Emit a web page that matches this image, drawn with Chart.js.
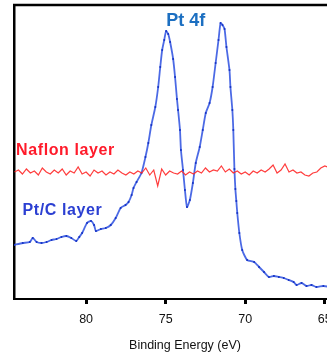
<!DOCTYPE html>
<html lang="en">
<head>
  <meta charset="UTF-8">
  <title>Pt 4f XPS</title>
  <script src="https://cdn.jsdelivr.net/npm/chart.js@4.4.0/dist/chart.umd.min.js"></script>
  <style>
    html, body { margin: 0; padding: 0; background: #fff; overflow: hidden; }
    #xps { display: block; }
  </style>
</head>
<body>
  <canvas id="xps" width="360" height="358"></canvas>

  <script>
    // Pt/C layer (blue) - binding energy (eV) and intensity (a.u.)
    const ptcEnergy = [84.53, 83.98, 83.54, 83.35, 83.11, 82.80, 82.48, 82.17, 81.86, 81.55, 81.24, 80.93, 80.62, 80.43, 80.25,
      79.94, 79.69, 79.50, 79.38, 79.07, 78.76, 78.45, 78.14, 77.83, 77.52, 77.33, 77.14, 77.02, 76.83, 76.52, 76.27, 76.09,
      75.90, 75.65, 75.47, 75.34, 75.22, 75.09, 74.97, 74.84, 74.72, 74.53, 74.41, 74.29, 74.22, 74.10, 74.04, 73.91, 73.79,
      73.66, 73.48, 73.29, 73.11, 72.86, 72.67, 72.48, 72.24, 72.05, 71.86, 71.68, 71.55, 71.43, 71.30, 71.18, 70.99, 70.93,
      70.81, 70.75, 70.68, 70.62, 70.56, 70.50, 70.37, 70.19, 69.88, 69.44, 69.13, 68.82, 68.51, 68.20, 67.89, 67.58, 67.27,
      66.96, 66.77, 66.46, 66.15, 65.84, 65.53, 65.09, 64.60, 64.10, 63.60];
    const ptcIntensity = [54, 56, 57, 61, 57, 56, 57, 59, 60, 62, 63, 61, 58, 62, 66,
      76, 78, 74, 68, 70, 71, 74, 81, 91, 94, 97, 104, 111, 117, 126, 142, 156,
      174, 192, 212, 232, 249, 259, 268, 265, 257, 240, 222, 200, 189, 169, 149, 129, 109,
      92, 99, 116, 136, 152, 169, 186, 196, 212, 236, 259, 276, 274, 270, 252, 229, 212,
      189, 169, 130, 110, 98, 86, 66, 49, 39, 37, 32, 27, 22, 23, 22, 21, 19,
      17, 14, 16, 13, 14, 12, 13, 12, 13, 11];

    // Nafion layer (red)
    const nafionEnergy = [84.50, 84.25, 84.00, 83.75, 83.50, 83.25, 83.00, 82.75, 82.50, 82.25, 82.00, 81.75, 81.50, 81.25,
      81.00, 80.75, 80.50, 80.25, 80.00, 79.75, 79.50, 79.25, 79.00, 78.75, 78.50, 78.25, 78.00, 77.75, 77.50, 77.25, 77.00,
      76.75, 76.50, 76.25, 76.00, 75.75, 75.50, 75.25, 75.00, 74.75, 74.50, 74.25, 74.00, 73.75, 73.50, 73.25, 73.00, 72.75,
      72.50, 72.25, 72.00, 71.75, 71.50, 71.25, 71.00, 70.75, 70.50, 70.25, 70.00, 69.75, 69.50, 69.25, 69.00, 68.75, 68.50,
      68.25, 68.00, 67.75, 67.50, 67.25, 67.00, 66.75, 66.50, 66.25, 66.00, 65.75, 65.50, 65.25, 65.00, 64.50, 64.00, 63.50];
    const nafionIntensity = [127, 129, 125, 130, 126, 128, 124, 131, 127, 125, 129, 126, 130, 124,
      128, 126, 132, 125, 127, 123, 129, 126, 128, 124, 127, 125, 129, 126, 124, 127, 125,
      128, 126, 131, 124, 129, 113, 130, 124, 128, 126, 125, 128, 124, 127, 125, 128, 126,
      131, 127, 129, 128, 133, 127, 130, 126, 128, 125, 127, 124, 128, 126, 129, 127, 130,
      134, 126, 129, 135, 127, 129, 126, 127, 124, 123, 126, 127, 131, 133, 130, 132, 131];

    const xTicks = [80, 75, 70, 65];

    const toPoints = (xs, ys) => xs.map((x, i) => ({ x: x, y: ys[i] }));

    // text labels inside the plot + top frame line
    const labelPlugin = {
      id: 'labels',
      afterDraw(chart) {
        const c = chart.ctx;
        const a = chart.chartArea;
        const xs = chart.scales.x, ys = chart.scales.y;
        c.save();
        c.strokeStyle = '#000';
        c.lineWidth = 2.5;
        c.beginPath();
        c.moveTo(a.left - 1, a.top);
        c.lineTo(a.right, a.top);
        c.stroke();

        c.textBaseline = 'alphabetic';
        c.textAlign = 'left';
        c.font = 'bold 18px "Liberation Sans", Arial, sans-serif';
        c.fillStyle = '#1c6fc1';
        c.fillText('Pt 4f', xs.getPixelForValue(74.97), ys.getPixelForValue(273));

        c.letterSpacing = '0.6px';
        c.font = 'bold 16px "Liberation Sans", Arial, sans-serif';
        c.fillStyle = '#ff1a2a';
        c.fillText('Naflon layer', xs.getPixelForValue(84.40), ys.getPixelForValue(144));
        c.fillStyle = '#2b3fd2';
        c.fillText('Pt/C layer', xs.getPixelForValue(84.00), ys.getPixelForValue(84));
        c.restore();
      }
    };

    new Chart(document.getElementById('xps'), {
      type: 'line',
      data: {
        datasets: [{
          label: 'Nafion layer',
          data: toPoints(nafionEnergy, nafionIntensity),
          borderColor: 'rgba(255, 40, 40, 0.9)',
          borderWidth: 1.2,
          pointRadius: 0,
          tension: 0
        }, {
          label: 'Pt/C layer',
          data: toPoints(ptcEnergy, ptcIntensity),
          borderColor: 'rgba(45, 80, 225, 0.85)',
          borderWidth: 1.8,
          pointRadius: 1,
          pointBackgroundColor: '#1633c4',
          pointBorderWidth: 0,
          tension: 0.2
        }]
      },
      options: {
        responsive: false,
        animation: false,
        layout: { padding: { top: 5, right: 0, bottom: 0, left: 0 } },
        plugins: { legend: { display: false }, tooltip: { enabled: false } },
        scales: {
          x: {
            type: 'linear',
            reverse: true,
            min: 63.04,
            max: 84.53,
            afterFit(scale) { scale.height = 59; },
            afterBuildTicks(scale) { scale.ticks = xTicks.map(v => ({ value: v })); },
            border: { display: true, color: '#000', width: 2 },
            grid: { drawOnChartArea: false, drawTicks: true, tickLength: 5, tickColor: '#000', tickWidth: 3 },
            ticks: {
              color: '#111',
              padding: 8,
              font: { family: '"Liberation Sans", Arial, sans-serif', size: 12.5 }
            },
            title: {
              display: true,
              text: 'Binding Energy (eV)',
              color: '#111',
              padding: { top: 0, bottom: 5 },
              font: { family: '"Liberation Sans", Arial, sans-serif', size: 12.5 }
            }
          },
          y: {
            min: 0,
            max: 294,
            afterFit(scale) { scale.width = 14; },
            border: { display: true, color: '#000', width: 2.5 },
            grid: { display: false },
            ticks: { display: false }
          }
        }
      },
      plugins: [labelPlugin]
    });
  </script>
</body>
</html>
